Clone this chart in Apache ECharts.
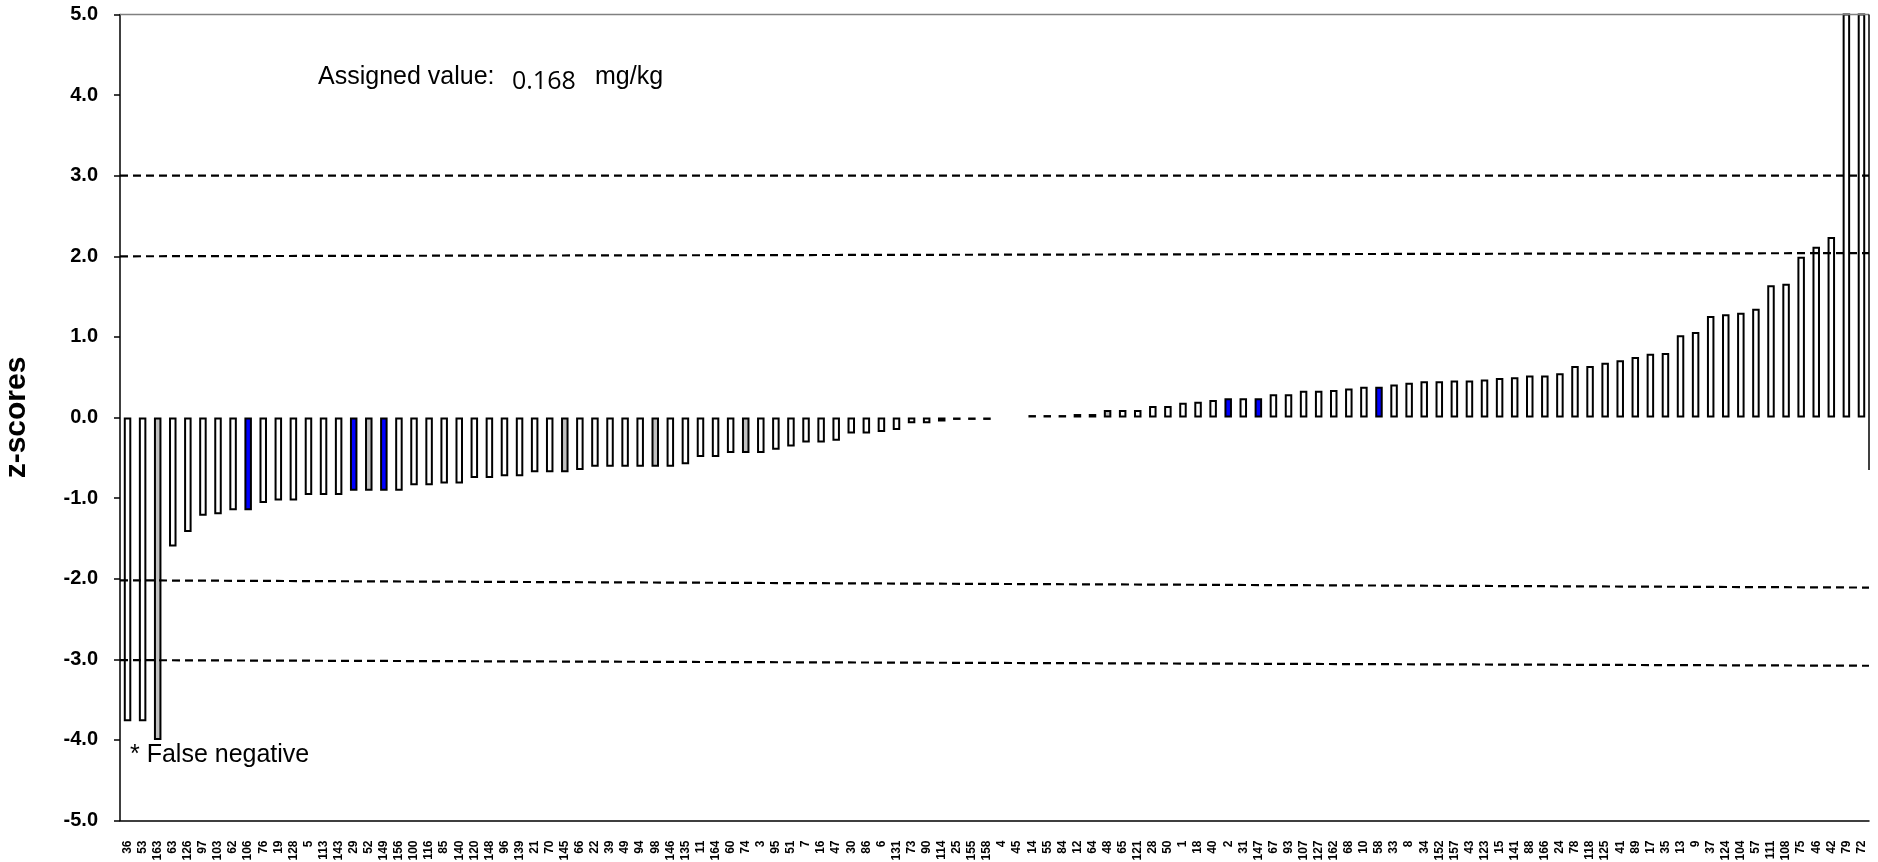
<!DOCTYPE html>
<html>
<head>
<meta charset="utf-8">
<script src="https://cdn.jsdelivr.net/npm/echarts@6/dist/echarts.min.js"></script>
<style>
html,body{margin:0;padding:0;background:#fff;}
#chart{width:1878px;height:862px;}
</style>
</head>
<body>
<div id="chart"></div>
<script>
// Participant codes (x-axis categories)
const categories = ['36','53','163','63','126','97','103','62','106','76','19','128','5','113','143','29','52','149','156','100',
'116','85','140','120','148','96','139','21','70','145','66','22','39','49','94','98','146','135','11','164',
'60','74','3','95','51','7','16','47','30','86','6','131','73','90','114','25','155','158','4','45',
'14','55','84','12','64','48','65','121','28','50','1','18','40','2','31','147','67','93','107','127',
'162','68','10','58','33','8','34','152','157','43','123','15','141','88','166','24','78','118','125','41',
'89','17','35','13','9','37','124','104','57','111','108','75','46','42','79','72'];

// z-scores (null = no bar)
const zScores = [-3.77,-3.77,-4.00,-1.60,-1.42,-1.22,-1.20,-1.15,-1.15,-1.06,-1.03,-1.03,-0.96,-0.96,-0.96,-0.91,-0.91,-0.91,-0.91,-0.84,
-0.84,-0.82,-0.82,-0.75,-0.75,-0.73,-0.73,-0.68,-0.68,-0.68,-0.65,-0.61,-0.61,-0.61,-0.61,-0.61,-0.61,-0.58,-0.49,-0.49,
-0.44,-0.44,-0.44,-0.40,-0.36,-0.31,-0.31,-0.29,-0.20,-0.20,-0.18,-0.155,-0.07,-0.07,-0.05,-0.03,-0.03,-0.03,null,null,
0.03,0.03,0.03,0.043,0.043,0.093,0.093,0.093,0.143,0.143,0.184,0.196,0.217,0.238,0.238,0.238,0.287,0.287,0.333,0.333,
0.34,0.36,0.38,0.38,0.41,0.43,0.45,0.45,0.46,0.46,0.47,0.49,0.50,0.52,0.52,0.55,0.64,0.64,0.68,0.71,
0.75,0.79,0.80,1.02,1.06,1.26,1.28,1.30,1.35,1.64,1.66,1.995,2.12,2.24,6.0,6.5];

// Highlighted participants
const grayIds = ['163','52','145','98','74','48'];
const blueIds = ['106','29','149','2','147','58'];

// Dashed limit lines: [value at left edge, value at right edge]
const limitLines = [[3.0, 3.0],[2.0, 2.04],[-2.02, -2.11],[-3.01, -3.08]];

const yMin = -5, yMax = 5, yStep = 1;

const barData = zScores.map((v, i) => {
  const id = categories[i];
  let fill = '#FFFFFF';
  if (grayIds.includes(id)) fill = '#C0C0C0';
  if (blueIds.includes(id)) fill = '#0000FF';
  return { value: v, itemStyle: { color: fill } };
});

const lineSeries = limitLines.map(l => ({
  type: 'line', xAxisIndex: 1, yAxisIndex: 0,
  data: [[0, l[0]], [1, l[1]]],
  symbol: 'none', silent: true, clip: false, z: 5,
  lineStyle: { color: '#000', width: 2.2, type: [8, 5] }
}));

const chart = echarts.init(document.getElementById('chart'), null, { renderer: 'canvas' });
chart.setOption({
  animation: false,
  backgroundColor: '#fff',
  grid: { left: 120, right: 9, top: 14.5, bottom: 41.5, containLabel: false, outerBoundsMode: 'none' },
  xAxis: [{
    type: 'category', data: categories, position: 'bottom',
    axisLine: { onZero: false, lineStyle: { color: '#000', width: 1.5 } },
    axisTick: { show: false },
    axisLabel: { interval: 0, rotate: 90, margin: 20, fontSize: 12, fontWeight: 'bold',
      fontFamily: 'Liberation Sans, Arial, sans-serif', color: '#000' },
    splitLine: { show: false }
  }, {
    type: 'value', min: 0, max: 1, show: false
  }],
  yAxis: [{
    type: 'value', min: yMin, max: yMax, interval: yStep,
    name: 'z-scores', nameLocation: 'middle', nameGap: 88, nameRotate: 90,
    nameTextStyle: { fontSize: 30, fontWeight: 'bold', fontFamily: 'Liberation Sans, Arial, sans-serif', color: '#000' },
    axisLine: { show: true, lineStyle: { color: '#000', width: 1.5 } },
    axisTick: { show: true, length: 6, lineStyle: { color: '#000', width: 1.5 } },
    axisLabel: { margin: 22, fontSize: 20, fontWeight: 'bold', color: '#000',
      fontFamily: 'Liberation Sans, Arial, sans-serif', formatter: v => v.toFixed(1) },
    splitLine: { show: false }
  }],
  series: [{
    type: 'bar', data: barData, barWidth: 7.5, z: 2,
    itemStyle: { borderColor: '#000', borderWidth: 2 }
  },
  ...lineSeries,
  {
    type: 'line', xAxisIndex: 1, yAxisIndex: 0, data: [[0, 5], [1, 5]],
    symbol: 'none', silent: true, clip: false, z: 4,
    lineStyle: { color: '#808080', width: 1.5 }
  }, {
    type: 'line', xAxisIndex: 1, yAxisIndex: 0, data: [[1, 5], [1, -0.65]],
    symbol: 'none', silent: true, clip: false, z: 4,
    lineStyle: { color: '#000', width: 1.5 }
  }],
  graphic: [
    { type: 'text', x: 318, y: 77, style: { text: 'Assigned value:', fill: '#000',
      font: '25px "Liberation Sans", Arial, sans-serif', verticalAlign: 'middle' } },
    { type: 'text', x: 512, y: 82, style: { text: '0.168', fill: '#000',
      font: '25px "Open Sans", "Noto Sans", sans-serif', verticalAlign: 'middle' } },
    { type: 'text', x: 595, y: 77, style: { text: 'mg/kg', fill: '#000',
      font: '25px "Liberation Sans", Arial, sans-serif', verticalAlign: 'middle' } },
    { type: 'text', x: 130, y: 755, style: { text: '* False negative', fill: '#000',
      font: '25px "Liberation Sans", Arial, sans-serif', verticalAlign: 'middle' } }
  ]
});
</script>
</body>
</html>
